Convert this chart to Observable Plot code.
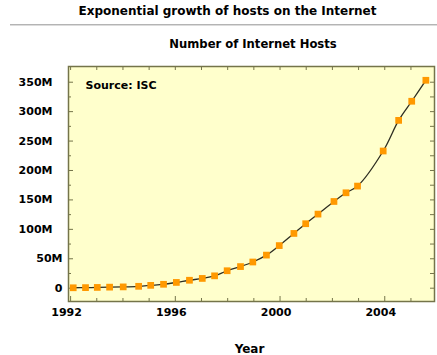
<!DOCTYPE html>
<html>
<head>
<meta charset="utf-8">
<script src="https://cdn.jsdelivr.net/npm/d3@7"></script>
<script src="https://cdn.jsdelivr.net/npm/@observablehq/plot@0.6"></script>
<style>
  html, body { margin: 0; padding: 0; background: #ffffff; }
  #wrap { position: relative; width: 437px; height: 355px; overflow: hidden; font-family: "DejaVu Sans", sans-serif; font-weight: bold; color: #000; }
  #head { position: relative; width: 437px; height: 56px; }
  #title { position: absolute; top: 4px; left: 10px; width: 435px; text-align: center; font-size: 12px; line-height: 14px; white-space: nowrap; }
  #rule { position: absolute; top: 24px; left: 10px; width: 427px; height: 0; border-top: 1px solid #b4b4b4; border-bottom: 1px solid #dcdcdc; }
  #subtitle { position: absolute; top: 37px; left: 70px; width: 366px; text-align: center; font-size: 11.6px; line-height: 14px; white-space: nowrap; }
  #chart svg { display: block; }
</style>
</head>
<body>
<div id="wrap">
  <div id="head">
    <div id="title">Exponential growth of hosts on the Internet</div>
    <div id="rule"></div>
    <div id="subtitle">Number of Internet Hosts</div>
  </div>
  <div id="chart"></div>
</div>
<script>
// Survey dates (fractional years) and number of hosts (millions), source: ISC
const surveyYears = [1992.10, 1992.57, 1993.02, 1993.49, 1994.01, 1994.60, 1995.06, 1995.55, 1996.04, 1996.54,
  1997.03, 1997.50, 1997.98, 1998.49, 1998.96, 1999.48, 1999.97, 2000.53, 2000.98, 2001.45,
  2002.06, 2002.52, 2002.96, 2003.94, 2004.53, 2005.03, 2005.57];
const hostsMillions = [0.73, 0.99, 1.31, 1.78, 2.22, 3.21, 4.85, 6.64, 9.8, 13.5,
  16.6, 21.0, 29.67, 36.74, 44.5, 56.22, 72.40, 93.05, 109.57, 125.89,
  147.34, 162.13, 173.5, 233.10, 285.14, 317.65, 353.28];

const xLabelYears = [1992, 1996, 2000, 2004];
const xMinorYears = [1993, 1994, 1995, 1997, 1998, 1999, 2001, 2002, 2003, 2005];
const xAllYears = [1992, 1993, 1994, 1995, 1996, 1997, 1998, 1999, 2000, 2001, 2002, 2003, 2004, 2005];
const yLabelsShort = [0, 50];
const yLabelsLong = [100, 150, 200, 250, 300, 350];
const yMajor = [0, 50, 100, 150, 200, 250, 300, 350];
const yMinor = [25, 75, 125, 175, 225, 275, 325];
const yAll = [0, 25, 50, 75, 100, 125, 150, 175, 200, 225, 250, 275, 300, 325, 350];
const sourceNote = ["Source: ISC"];
const xTitle = ["Year"];

const data = surveyYears.map((yr, i) => ({year: yr, hosts: hostsMillions[i]}));

const W = 437, H = 299, mT = 10, mB = 54, mL = 68, mR = 3;
const frameW = W - mL - mR, frameH = H - mT - mB;
const edge = "#74744a";
const fmtY = d => d === 0 ? "0" : d + "M";

const chart = Plot.plot({
  width: W,
  height: H,
  marginTop: mT,
  marginBottom: mB,
  marginLeft: mL,
  marginRight: mR,
  style: {fontFamily: "DejaVu Sans", fontSize: "11px", fontWeight: "bold", color: "#000", background: "transparent", overflow: "visible"},
  x: {domain: [1991.92, 2005.9]},
  y: {domain: [-22.6, 376.7]},
  marks: [
    Plot.frame({fill: "#ffffcc"}),
    // inward tick marks
    Plot.tickX(xLabelYears, {x: d => d, insetTop: frameH - 5, stroke: edge}),
    Plot.tickX(xMinorYears, {x: d => d, insetTop: frameH - 3, stroke: edge}),
    Plot.tickX(xAllYears, {x: d => d, insetBottom: frameH - 4, stroke: edge}),
    Plot.tickY(yMajor, {y: d => d, insetRight: frameW - 5, stroke: edge}),
    Plot.tickY(yMinor, {y: d => d, insetRight: frameW - 3, stroke: edge}),
    Plot.tickY(yAll, {y: d => d, insetLeft: frameW - 4, stroke: edge}),
    // axis labels
    Plot.axisX({ticks: xLabelYears, tickFormat: d => String(d), tickSize: 0, tickPadding: 7, dx: -4, label: null, fontSize: 11}),
    Plot.axisY({ticks: yLabelsShort, tickFormat: fmtY, tickSize: 0, tickPadding: 6, label: null, fontSize: 11}),
    Plot.axisY({ticks: yLabelsLong, tickFormat: fmtY, tickSize: 0, tickPadding: 16, label: null, fontSize: 11}),
    // data
    Plot.line(data, {x: "year", y: "hosts", curve: "catmull-rom", stroke: "#2e2e22", strokeWidth: 1.3}),
    Plot.dot(data, {x: "year", y: "hosts", symbol: "square", r: 3.8, fill: "#ff9900", stroke: "none"}),
    Plot.text(sourceNote, {frameAnchor: "top-left", dx: 17, dy: 15, textAnchor: "start", fontSize: 11, fontWeight: "bold", fill: "#000"}),
    Plot.text(xTitle, {frameAnchor: "bottom", dy: 51, dx: -2, fontSize: 12, fontWeight: "bold", fill: "#000"}),
    Plot.frame({stroke: edge, strokeWidth: 1.5})
  ]
});
document.getElementById("chart").appendChild(chart);
</script>
</body>
</html>
